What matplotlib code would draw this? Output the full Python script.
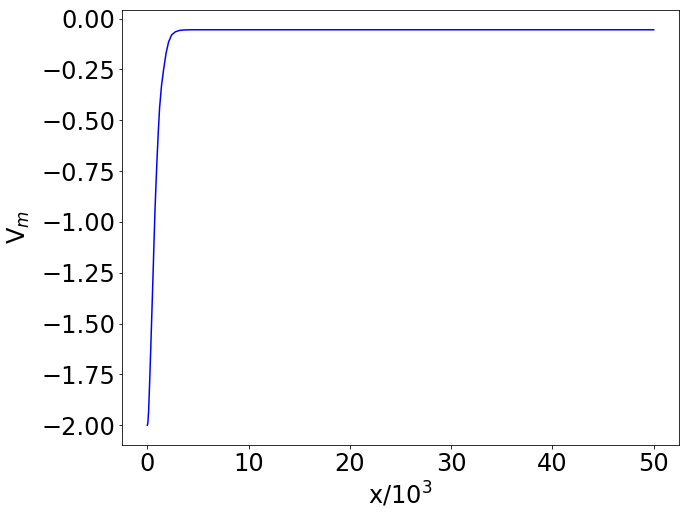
import matplotlib
matplotlib.use('Agg')
import matplotlib.pyplot as plt

# values (x in units of 10^3)
x_vals = [0.0, 0.05, 0.13, 0.25, 0.36, 0.46, 0.56, 0.66, 0.76, 0.86, 0.96, 1.08, 1.21,
          1.4, 1.61, 1.85, 2.1, 2.4, 2.77, 3.2, 3.6, 4.2, 5.0, 10.0, 20.0, 30.0, 40.0, 50.0]
vm_vals = [-2.0, -1.99, -1.93, -1.76, -1.59, -1.43, -1.27, -1.1, -0.94, -0.81, -0.69, -0.56, -0.44,
           -0.33, -0.25, -0.17, -0.115, -0.08, -0.065, -0.058, -0.056, -0.055, -0.055, -0.055,
           -0.055, -0.055, -0.055, -0.055]
y_ticks = [-2.0, -1.75, -1.5, -1.25, -1.0, -0.75, -0.5, -0.25, 0.0]

DPI = 72
fig = plt.figure(figsize=(689 / DPI, 516 / DPI), dpi=DPI)
ax = fig.add_axes([122 / 689, 71 / 516, 557 / 689, 435 / 516])

ax.plot(x_vals, vm_vals, color='blue', linewidth=1.5)

ax.set_yticks(y_ticks)
ax.set_yticklabels([f'{t:.2f}'.replace('-', '\u2212') for t in y_ticks])
ax.set_xlabel('x/$10^3$', fontsize=24)
ax.set_ylabel('V$_m$', fontsize=24, labelpad=9)
ax.tick_params(labelsize=24)

fig.savefig('out.png', dpi=DPI)
